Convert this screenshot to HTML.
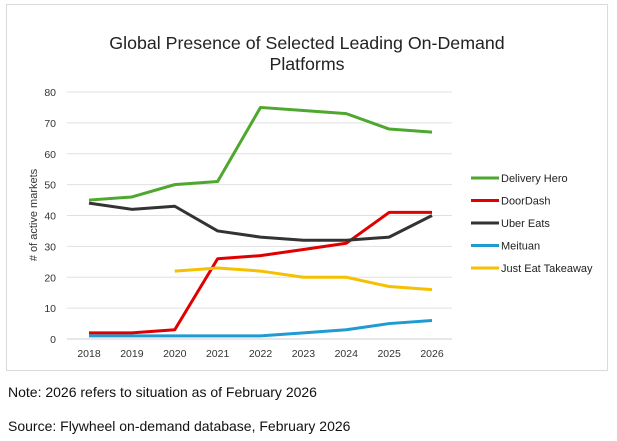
<!DOCTYPE html>
<html><head><meta charset="utf-8"><style>
body{margin:0;background:#fff;width:617px;height:441px;overflow:hidden;font-family:"Liberation Sans",sans-serif}
</style></head><body>
<svg width="617" height="441" style="position:absolute;left:0;top:0">
<rect x="6.5" y="4.5" width="601" height="366" fill="#fff" stroke="#d9d9d9"/>
<text x="307" y="49" text-anchor="middle" font-size="17.8" fill="#222">Global Presence of Selected Leading On-Demand</text>
<text x="307" y="70" text-anchor="middle" font-size="17.8" fill="#222">Platforms</text>
<text transform="translate(37,215) rotate(-90)" text-anchor="middle" font-size="11" fill="#333"># of active markets</text>
<g id="grid"></g><g id="series"></g><g id="legend"></g>
<text x="8" y="397" font-size="14" fill="#111">Note: 2026 refers to situation as of February 2026</text>
<text x="8" y="431" font-size="14" fill="#111">Source: Flywheel on-demand database, February 2026</text>
</svg>
<script>
const years=[2018,2019,2020,2021,2022,2023,2024,2025,2026];
const yTicks=[0,10,20,30,40,50,60,70,80];
const seriesNames=["Delivery Hero","DoorDash","Uber Eats","Meituan","Just Eat Takeaway"];
const deliveryHero=[45,46,50,51,75,74,73,68,67];
const doorDash=[2,2,3,26,27,29,31,41,41];
const uberEats=[44,42,43,35,33,32,32,33,40];
const meituan=[1,1,1,1,1,2,3,5,6];
const justEat=[null,null,22,23,22,20,20,17,16];
const colors=["#4ea72e","#e00000","#333333","#1f9bd1","#f5c000"];
const NS="http://www.w3.org/2000/svg";
const x=i=>89+i*(432-89)/(years.length-1);
const y=v=>339-v*(339-92)/80;
function mk(t,a,p){const e=document.createElementNS(NS,t);for(const k in a)e.setAttribute(k,a[k]);p.appendChild(e);return e;}
const g=document.getElementById('grid');
yTicks.forEach(t=>{
 const l=mk('line',{x1:67,x2:452,y1:y(t),y2:y(t),stroke:t===0?'#cfcfcf':'#e0e0e0','stroke-width':1},g);
 
 
 const tx=mk('text',{x:56,y:y(t)+4,'text-anchor':'end','font-size':10.5,fill:'#333'},g);tx.textContent=t;
 
 
});
years.forEach((yr,i)=>{
 const tx=mk('text',{x:x(i),y:357,'text-anchor':'middle','font-size':10.5,fill:'#333'},g);tx.textContent=yr;
 
 
});
const all=[deliveryHero,doorDash,uberEats,meituan,justEat];
const sg=document.getElementById('series');
all.forEach((d,s)=>{
 let pts=[];d.forEach((v,i)=>{if(v!==null)pts.push(x(i)+','+y(v));});
 const p=mk('polyline',{points:pts.join(' '),fill:'none',stroke:colors[s],'stroke-width':3,'stroke-linejoin':'round'},sg);
 
 
});
const lg=document.getElementById('legend');
seriesNames.forEach((n,s)=>{
 const yy=178+s*22.5;
 const l=mk('line',{x1:471,x2:499,y1:yy,y2:yy,stroke:colors[s],'stroke-width':3},lg);
 
 
 const t=mk('text',{x:501,y:yy+4,'font-size':11,fill:'#222'},lg);t.textContent=n;
 
 
});
</script>
</body></html>
